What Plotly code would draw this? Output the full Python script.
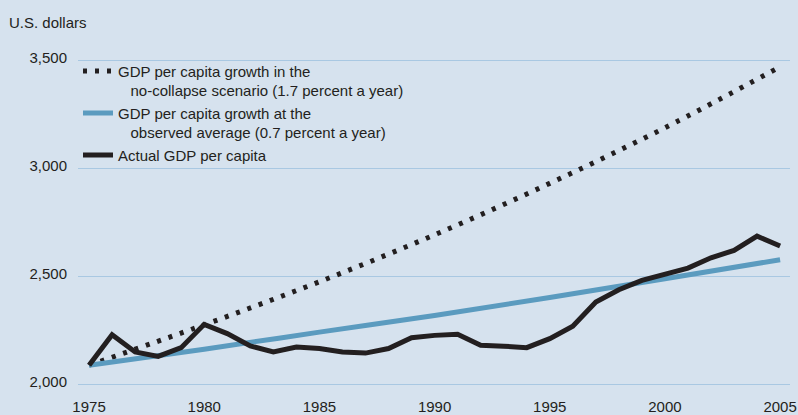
import plotly.graph_objects as go

# values (U.S. dollars)
years = list(range(1975, 2006))
actual = [2090, 2231, 2151, 2131, 2171, 2279, 2236, 2179, 2151, 2174,
          2167, 2151, 2146, 2167, 2217, 2228, 2233, 2182, 2178, 2171,
          2213, 2270, 2382, 2439, 2482, 2513, 2539, 2587, 2621, 2687, 2641]

trend_years = [1975, 1980, 1985, 1990, 1995, 2000, 2005]
no_collapse = [2090, 2277, 2476, 2693, 2931, 3188, 3470]
observed_avg = [2090, 2164, 2243, 2320, 2403, 2490, 2578]

names = [
    "GDP per capita growth in the<br>\u00a0\u00a0\u00a0no-collapse scenario (1.7 percent a year)",
    "GDP per capita growth at the<br>\u00a0\u00a0\u00a0observed average (0.7 percent a year)",
    "Actual GDP per capita",
]

FONT = "Liberation Sans Narrow, Arial Narrow, Liberation Sans, Arial, sans-serif"
INK = "#231f20"

fig = go.Figure()
fig.add_trace(go.Scatter(
    x=trend_years, y=no_collapse, mode="lines", name=names[0],
    line=dict(color=INK, width=5, dash="4px,8px", shape="spline"),
))
fig.add_trace(go.Scatter(
    x=trend_years, y=observed_avg, mode="lines", name=names[1],
    line=dict(color="#5b9bbf", width=5, shape="spline"),
))
fig.add_trace(go.Scatter(
    x=years, y=actual, mode="lines", name=names[2],
    line=dict(color=INK, width=5),
))

fig.update_layout(
    width=798, height=415,
    margin=dict(l=78, r=8, t=56, b=26),
    paper_bgcolor="#d6e2ee",
    plot_bgcolor="#d6e2ee",
    font=dict(family=FONT, size=15, color=INK),
    showlegend=True,
    legend=dict(
        x=0.0, y=1.004, xanchor="left", yanchor="top", valign="top",
        bgcolor="rgba(0,0,0,0)", font=dict(size=15, color=INK),
        tracegroupgap=0, itemwidth=30,
    ),
    annotations=[dict(
        text="U.S. dollars", xref="paper", yref="paper",
        x=-0.0997, y=1.101, xanchor="left", yanchor="middle",
        showarrow=False, font=dict(size=15, color=INK),
    )],
)
fig.update_xaxes(
    range=[1974.52, 2005.43], tickmode="linear", tick0=1975, dtick=5,
    showgrid=False, zeroline=False, showline=False, ticks="",
    ticklabelstandoff=7, automargin=False,
    tickfont=dict(size=15, color=INK),
)
fig.update_yaxes(
    range=[1980, 3520], tickvals=[2000, 2500, 3000, 3500], tickformat=",",
    showgrid=True, gridcolor="#a9c8e2", gridwidth=1, zeroline=False,
    showline=False, ticks="", ticklabelstandoff=10, ticklabelshift=-3,
    automargin=False,
    tickfont=dict(size=15, color=INK),
)

# drop the default page margin so the figure fills the window exactly
fig.write_html(
    "out.html",
    config={"displayModeBar": False},
    post_script="document.body.style.margin='0';document.body.style.overflow='hidden';",
)
